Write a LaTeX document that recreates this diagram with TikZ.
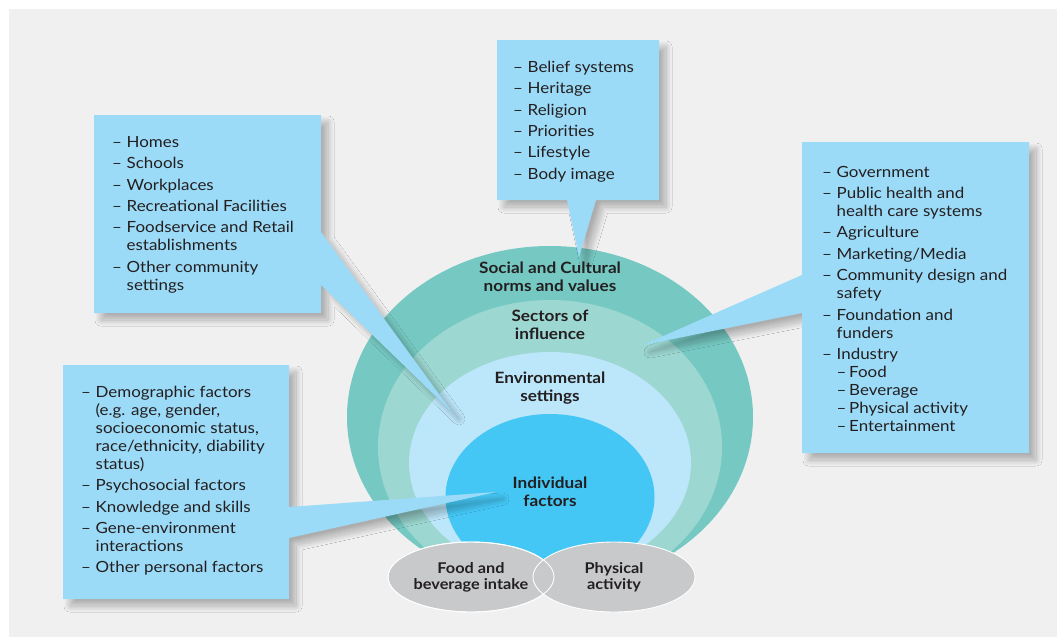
\documentclass[tikz,border=0pt]{standalone}
\usepackage{fontspec}
\setmainfont{Lato}[FakeStretch=1.1]
\usetikzlibrary{shapes.geometric,shadows.blur}

\definecolor{bggray}{HTML}{F0F0F0}
\definecolor{boxblue}{HTML}{9CDBF7}
\definecolor{ringsocial}{HTML}{76C9C2}
\definecolor{ringsector}{HTML}{9DD7D1}
\definecolor{ringenv}{HTML}{BCE6F9}
\definecolor{ringind}{HTML}{45C7F5}
\definecolor{actgray}{HTML}{C8C9CB}
\definecolor{txt}{HTML}{231F20}

% list helpers: item dash, continuation indent, sub-item dash
\newcommand\di{\makebox[14.5pt][l]{–}}
\newcommand\dc{\hspace*{14.5pt}}
\newcommand\dsub{\hspace*{14.5pt}\makebox[12.5pt][l]{–}}
\newcommand\ig{3.4pt}

\tikzset{
  ring/.style={ellipse, inner sep=0pt, draw=none},
  ringlabel/.style={align=center, inner sep=0pt, text=txt,
    font=\bfseries\fontsize{15.6}{17.5}\selectfont},
  act/.style={ellipse, inner sep=0pt, fill=actgray, draw=white, line width=0.9pt,
    minimum width=166pt, minimum height=70pt},
  actlabel/.style={align=center, inner sep=0pt, text=txt,
    font=\bfseries\fontsize{14.8}{16}\selectfont},
  callout/.style={fill=boxblue,
    blur shadow={shadow xshift=7pt, shadow yshift=-7pt, shadow blur radius=6pt,
      shadow blur steps=30, shadow opacity=28}},
  listtext/.style={anchor=north west, inner sep=0pt, align=left, text=txt,
    font=\fontsize{15.4}{18}\selectfont},
}

\begin{document}
\begin{tikzpicture}[x=1pt,y=-1pt]
\useasboundingbox (0,0) rectangle (1057,637);
\fill[bggray] (9,9) rectangle (1057,637);

% nested spheres of influence
\node[ring, fill=ringsocial, minimum width=406pt, minimum height=342pt] (social) at (550,417) {};
\node[ring, fill=ringsector, minimum width=344pt, minimum height=294pt] (sector) at (550,447) {};
\node[ring, fill=ringenv, minimum width=282pt, minimum height=222pt] (env) at (550,463) {};
\node[ring, fill=ringind, minimum width=209pt, minimum height=166pt] (ind) at (550,497) {};

% behaviours at the base
\node[act] (food) at (471,577) {};
\node[act, minimum width=162pt] (phys) at (614,577) {};
\draw[white, line width=0.9pt] (food.center) ellipse [x radius=83pt, y radius=35pt];

% callout: environmental settings
\coordinate (a1) at (94,115);  \coordinate (a2) at (321,115);
\coordinate (a3) at (321,232); \coordinate (atip) at (452,412);
\coordinate (a4) at (321,285); \coordinate (a5) at (321,313);
\coordinate (a6) at (94,313);
\fill[callout] (a1) -- (a2) -- (a3) -- (atip) -- (a4) -- (a5) -- (a6) -- cycle;

% callout: social and cultural norms
\coordinate (b1) at (497,40);  \coordinate (b2) at (659,40);
\coordinate (b3) at (659,200); \coordinate (b4) at (596,200);
\coordinate (btip) at (579,257); \coordinate (b5) at (567,200);
\coordinate (b6) at (497,200);
\fill[callout] (b1) -- (b2) -- (b3) -- (b4) -- (btip) -- (b5) -- (b6) -- cycle;

% callout: sectors of influence
\coordinate (c1) at (802,142);  \coordinate (c2) at (1029,142);
\coordinate (c3) at (1029,453); \coordinate (c4) at (802,453);
\coordinate (c5) at (802,313);  \coordinate (ctip) at (643,345);
\coordinate (c6) at (802,275);
\fill[callout] (c1) -- (c2) -- (c3) -- (c4) -- (c5) -- (ctip) -- (c6) -- cycle;

% callout: individual factors
\coordinate (d1) at (63,365);  \coordinate (d2) at (289,365);
\coordinate (d3) at (289,507); \coordinate (dtip) at (496,492);
\coordinate (d4) at (289,538); \coordinate (d5) at (289,599);
\coordinate (d6) at (63,599);
\fill[callout] (d1) -- (d2) -- (d3) -- (dtip) -- (d4) -- (d5) -- (d6) -- cycle;

% ring labels
\node[ringlabel] (socialtxt) at (550,277) {Social and Cultural\\norms and values};
\node[ringlabel] (sectortxt) at (550,325) {Sectors of\\influence};
\node[ringlabel] (envtxt) at (550,388) {Environmental\\settings};
\node[ringlabel] (indtxt) at (550,492) {Individual\\factors};
\node[actlabel] (foodtxt) at (food) {Food and\\beverage intake};
\node[actlabel] (phystxt) at (phys) {Physical\\activity};

% callout lists
\node[listtext] (envlist) at (112,136) {%
\di Homes\\[\ig]
\di Schools\\[\ig]
\di Workplaces\\[\ig]
\di Recreational Facilities\\[\ig]
\di Foodservice and Retail\\
\dc establishments\\[\ig]
\di Other community\\
\dc settings};

\node[listtext] (sociallist) at (513,60.8) {%
\di Belief systems\\[\ig]
\di Heritage\\[\ig]
\di Religion\\[\ig]
\di Priorities\\[\ig]
\di Lifestyle\\[\ig]
\di Body image};

\node[listtext] (sectorlist) at (822,165.8) {%
\di Government\\[\ig]
\di Public health and\\
\dc health care systems\\[\ig]
\di Agriculture\\[\ig]
\di Marketing/Media\\[\ig]
\di Community design and\\
\dc safety\\[\ig]
\di Foundation and\\
\dc funders\\[\ig]
\di Industry\\
\dsub Food\\
\dsub Beverage\\
\dsub Physical activity\\
\dsub Entertainment};

\node[listtext] (indlist) at (81,385.8) {%
\di Demographic factors\\
\dc (e.g. age, gender,\\
\dc socioeconomic status,\\
\dc race/ethnicity, diability\\
\dc status)\\[\ig]
\di Psychosocial factors\\[\ig]
\di Knowledge and skills\\[\ig]
\di Gene-environment\\
\dc interactions\\[\ig]
\di Other personal factors};
\end{tikzpicture}
\end{document}
